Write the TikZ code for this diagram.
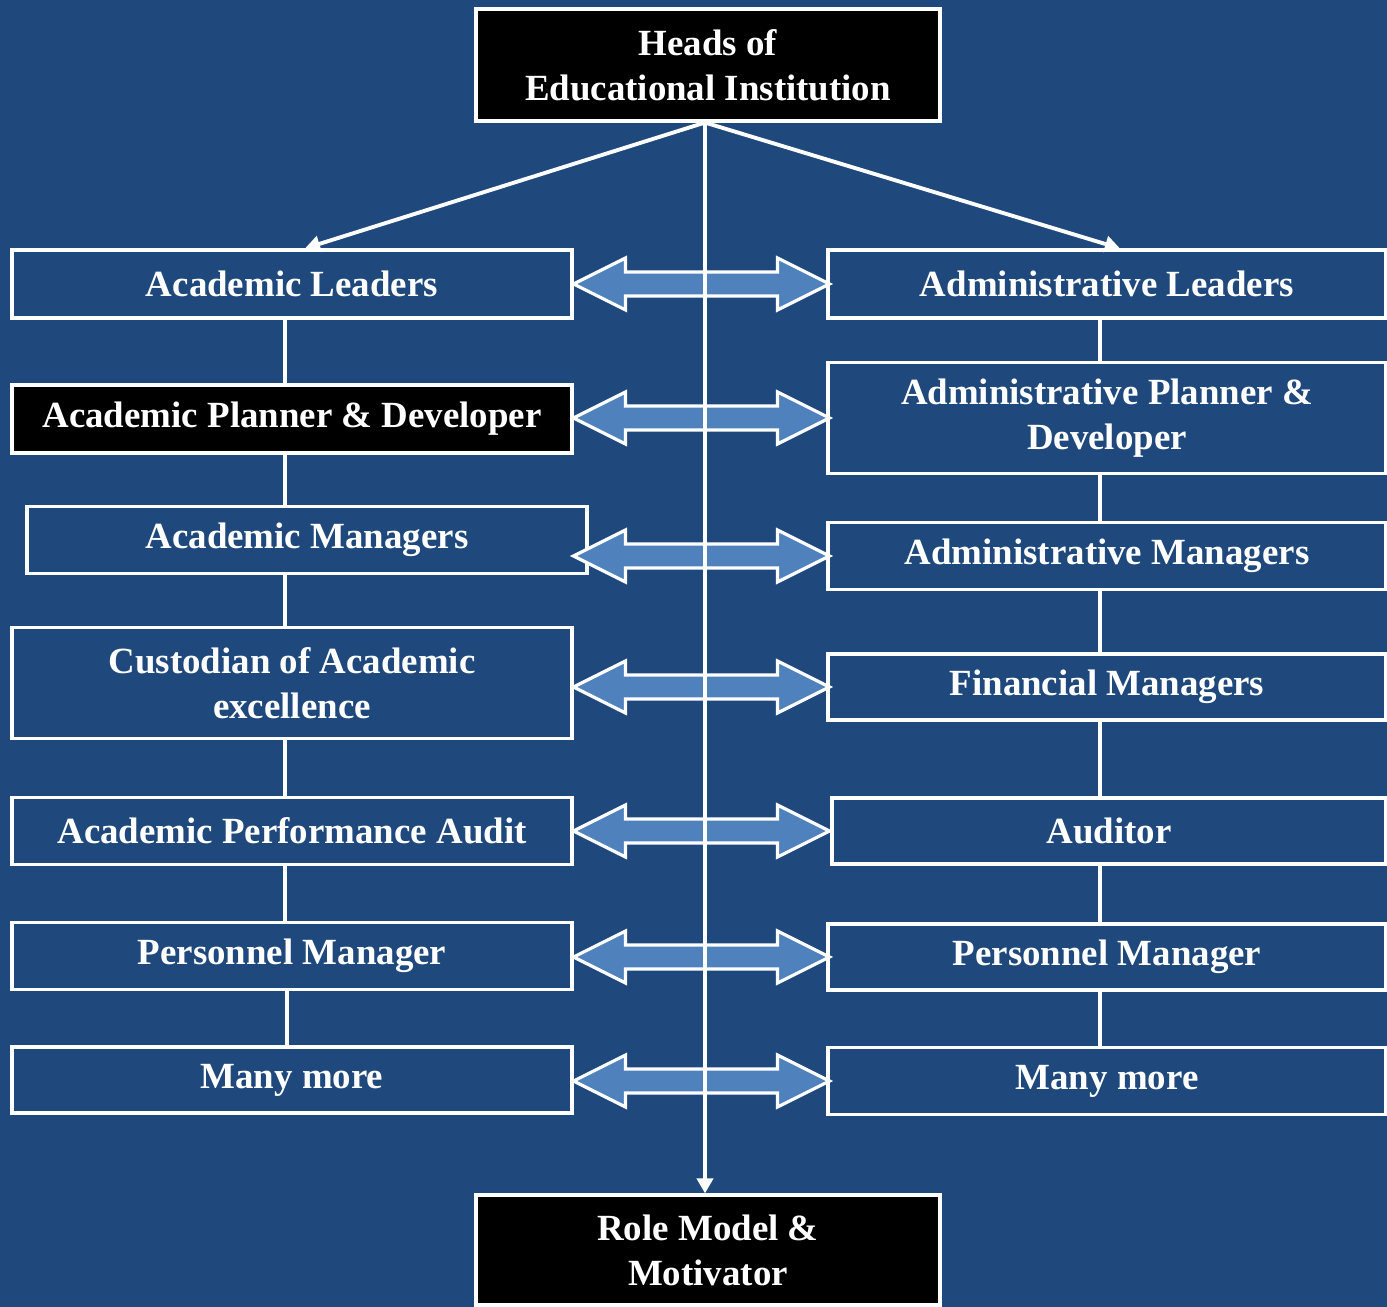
\documentclass[tikz,border=0pt]{standalone}
\usepackage{fontspec}
\setmainfont{Liberation Serif}
\usetikzlibrary{arrows.meta}
\definecolor{bgblue}{RGB}{31,73,125}
\definecolor{arrowblue}{RGB}{79,129,189}
\newcommand{\linkarrow}[1]{%
  \draw[twoway] (#1) -- ++(52,-26) -- ++(0,14) -- ++(152,0) -- ++(0,-14)
    -- ++(52,26) -- ++(-52,26) -- ++(0,-14) -- ++(-152,0) -- ++(0,14) -- cycle;}
\tikzset{
  box/.style={draw=white, line width=1.8pt, fill=bgblue, text=white,
    font=\bfseries\fontsize{21}{25.5}\selectfont, align=center,
    minimum width=11.2cm, minimum height=1.34cm, inner sep=0pt},
  darkbox/.style={box, fill=black},
  twoway/.style={draw=white, line width=1.8pt, fill=arrowblue, line join=miter},
  link/.style={draw=white, line width=2.2pt},
  lead/.style={draw=white, line width=2.2pt, -{Triangle[width=0.32cm,length=0.3cm]}}
}
\begin{document}
\begin{tikzpicture}[x=0.02cm, y=-0.02cm]
  \fill[bgblue] (0,0) rectangle (1387,1307);
  \useasboundingbox (0,0) rectangle (1387,1307);
  \draw
    (708,65) node[darkbox, minimum width=9.28cm, minimum height=2.24cm] (heads){Heads of\\Educational Institution}
    (708,1250) node[darkbox, minimum width=9.28cm, minimum height=2.2cm] (role){Role Model \&\\Motivator}
    (292,284) node[box, minimum height=1.36cm] (acLead){Academic Leaders}
    (292,419) node[darkbox, minimum height=1.36cm] (acPlan){Academic Planner \& Developer}
    (307,540) node[box] (acMan){Academic Managers}
    (292,683) node[box, minimum height=2.22cm] (acCust){Custodian of Academic\\excellence}
    (292,831) node[box] (acAudit){Academic Performance Audit}
    (292,956) node[box] (acPers){Personnel Manager}
    (292,1080) node[box, minimum height=1.32cm] (acMore){Many more}
    (1107,284) node[box, minimum width=11.16cm, minimum height=1.36cm] (adLead){Administrative Leaders}
    (1107,418) node[box, minimum width=11.16cm, minimum height=2.22cm] (adPlan){Administrative Planner \&\\Developer}
    (1107,556) node[box, minimum width=11.16cm] (adMan){Administrative Managers}
    (1107,687) node[box, minimum width=11.16cm, minimum height=1.32cm] (finMan){Financial Managers}
    (1109,831) node[box, minimum width=11.08cm, minimum height=1.32cm] (audit){Auditor}
    (1107,957) node[box, minimum width=11.16cm, minimum height=1.32cm] (adPers){Personnel Manager}
    (1107,1081) node[box, minimum width=11.16cm] (adMore){Many more};
  \begin{scope}[link]
    \draw ([xshift=-0.14cm]acLead.south) to ([xshift=-0.14cm]acPlan.north);
    \draw ([xshift=-0.14cm]acPlan.south) to ([xshift=-0.14cm]acPlan.south |- acMan.north);
    \draw ([xshift=-0.14cm]acCust.north |- acMan.south) to ([xshift=-0.14cm]acCust.north);
    \draw ([xshift=-0.14cm]acCust.south) to ([xshift=-0.14cm]acAudit.north);
    \draw ([xshift=-0.14cm]acAudit.south) to ([xshift=-0.14cm]acPers.north);
    \draw ([xshift=-0.1cm]acPers.south) to ([xshift=-0.1cm]acMore.north);
    \draw ([xshift=-0.14cm]adLead.south) to ([xshift=-0.14cm]adPlan.north);
    \draw ([xshift=-0.14cm]adPlan.south) to ([xshift=-0.14cm]adMan.north);
    \draw ([xshift=-0.14cm]adMan.south) to ([xshift=-0.14cm]finMan.north);
    \draw ([xshift=-0.14cm]finMan.south) to ([xshift=-0.14cm]finMan.south |- audit.north);
    \draw ([xshift=-0.14cm]adPers.north |- audit.south) to ([xshift=-0.14cm]adPers.north);
    \draw ([xshift=-0.14cm]adPers.south) to ([xshift=-0.14cm]adMore.north);
  \end{scope}
  \linkarrow{acLead.east |- adLead.west}
  \linkarrow{acPlan.east |- adPlan.west}
  \linkarrow{acCust.east |- adMan.west}
  \linkarrow{acCust.east |- finMan.west}
  \linkarrow{acAudit.east |- audit.west}
  \linkarrow{acPers.east |- adPers.west}
  \linkarrow{acMore.east |- adMore.west}
  \draw[lead] ([xshift=-0.06cm]heads.south) -- ([xshift=0.26cm]acLead.north);
  \draw[lead] ([xshift=-0.06cm]heads.south) -- ([xshift=0.26cm]adLead.north);
  \draw[lead] ([xshift=-0.06cm]heads.south) -- ([xshift=-0.06cm]role.north);
\end{tikzpicture}
\end{document}
